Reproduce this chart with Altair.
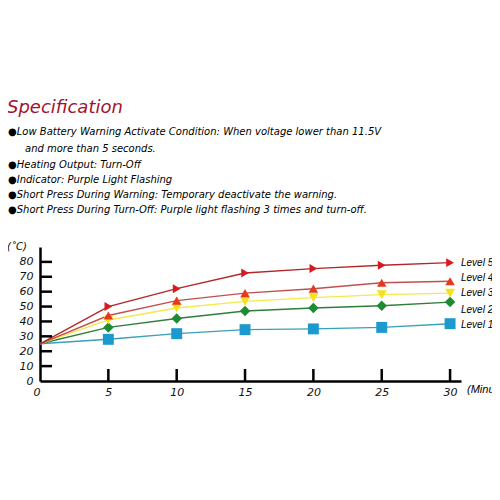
import altair as alt
import pandas as pd

# ---- data ----
minutes = [0, 5, 10, 15, 20, 25, 30]
levels = ["Level 1", "Level 2", "Level 3", "Level 4", "Level 5"]
level1 = [25, 28, 31.8, 34.5, 35, 36, 38.5]
level2 = [25, 36, 42, 47, 49, 50.5, 53]
level3 = [25, 41, 49, 53.5, 56, 58, 59]
level4 = [25, 44, 54, 59, 62, 66, 67]
level5 = [25, 50, 62, 72.5, 75.5, 77.7, 79.5]
x_ticks = [0, 5, 10, 15, 20, 25, 30]
y_ticks = [0, 10, 20, 30, 40, 50, 60, 70, 80]

title_text = "Specification"
spec_lines = [
    "\u25cfLow Battery Warning Activate Condition: When voltage lower than 11.5V",
    "and more than 5 seconds.",
    "\u25cfHeating Output: Turn-Off",
    "\u25cfIndicator: Purple Light Flashing",
    "\u25cfShort Press During Warning: Temporary deactivate the warning.",
    "\u25cfShort Press During Turn-Off: Purple light flashing 3 times and turn-off.",
]

line_colors = ["#3a9fb8", "#2f7d3a", "#f2ea4e", "#c0504d", "#b3262a"]
point_colors = ["#1c9ad0", "#1e8a34", "#f5e21a", "#e5391f", "#d71920"]
shapes = ["square", "diamond", "triangle-down", "triangle-up", "triangle-right"]
sizes = [120, 80, 80, 80, 80]

rows = []
for name, vals in zip(levels, [level1, level2, level3, level4, level5]):
    for m, v in zip(minutes, vals):
        rows.append({"minute": m, "temp": v, "level": name})
df = pd.DataFrame(rows)
pts = df[df["minute"] > 0]

W, H = 421, 134
xs = alt.Scale(domain=[0, 30.8], nice=False, zero=False)
ys = alt.Scale(domain=[0, 90], nice=False, zero=False)
FONT = "DejaVu Sans"
LFONT = "Liberation Sans"

x_axis = alt.Axis(
    values=x_ticks, tickSize=0, grid=False, domainColor="black", domainWidth=2.5,
    labelFont=FONT, labelFontStyle="italic", labelFontSize=11, labelColor="#111",
    labelPadding=5, labelOverlap=False, labelFlush=False,
    labelAlign={"condition": {"test": "datum.value == 0", "value": "right"}, "value": "center"},
    title=None)
y_axis = alt.Axis(
    values=y_ticks, tickSize=0, grid=False, domainColor="black", domainWidth=2.5,
    labelFont=FONT, labelFontStyle="italic", labelFontSize=11, labelColor="#111",
    labelPadding=7, labelOverlap=False, labelFlush=False, title=None)

lines = alt.Chart(df).mark_line(strokeWidth=1.4).encode(
    x=alt.X("minute:Q", scale=xs, axis=x_axis),
    y=alt.Y("temp:Q", scale=ys, axis=y_axis),
    color=alt.Color("level:N", scale=alt.Scale(domain=levels, range=line_colors), legend=None),
    detail="level:N",
)

points = alt.Chart(pts).mark_point(filled=True, opacity=1).encode(
    x=alt.X("minute:Q", scale=xs, axis=x_axis),
    y=alt.Y("temp:Q", scale=ys, axis=y_axis),
    color=alt.Color("level:N", scale=alt.Scale(domain=levels, range=point_colors), legend=None),
    shape=alt.Shape("level:N", scale=alt.Scale(domain=levels, range=shapes), legend=None),
    size=alt.Size("level:N", scale=alt.Scale(domain=levels, range=sizes), legend=None),
)

xt = alt.Chart(pd.DataFrame({"v": x_ticks[1:]})).mark_rule(color="black", strokeWidth=2.5).encode(
    x=alt.X("v:Q", scale=xs, axis=x_axis), y=alt.value(H), y2=alt.value(H - 12))
yt = alt.Chart(pd.DataFrame({"v": y_ticks[1:]})).mark_rule(color="black", strokeWidth=2.5).encode(
    y=alt.Y("v:Q", scale=ys, axis=y_axis), x=alt.value(0), x2=alt.value(12))

def txt(s, x, y, size=10, color="black", align="left", style="italic", font=FONT):
    return alt.Chart(pd.DataFrame({"t": [s]})).mark_text(
        align=align, baseline="middle", font=font, fontSize=size, fontStyle=style,
        color=color).encode(text="t:N", x=alt.value(x), y=alt.value(y))

texts = [txt(title_text, -33, -139, size=18, color="#a3122c")]
line_y = [-115.3, -98, -82, -67, -52, -37]
line_x = [-32, -15, -32, -32, -32, -32]
for s, xx, yy in zip(spec_lines, line_x, line_y):
    texts.append(txt(s, xx, yy, size=10))
texts.append(txt("(\u02daC)", -33, 0, size=10))
texts.append(txt("(Minutes)", 427, 143, size=11, font=LFONT))
label_y = [77, 62, 45, 30, 15]
for s, yy in zip(levels, label_y):
    texts.append(txt(s, 421, yy + 1, size=10, font=LFONT))

chart = alt.layer(lines, points, xt, yt, *texts).resolve_scale(
    color="independent", shape="independent", size="independent"
).properties(
    width=W, height=H,
    autosize=alt.AutoSizeParams(type="none"),
    padding={"left": 32, "top": 239, "right": 31, "bottom": 111},
    background="white",
).configure_view(stroke=None).configure_axis(labelOverlap=False)

chart.save("out.html", embed_options={"renderer": "svg", "actions": False})
